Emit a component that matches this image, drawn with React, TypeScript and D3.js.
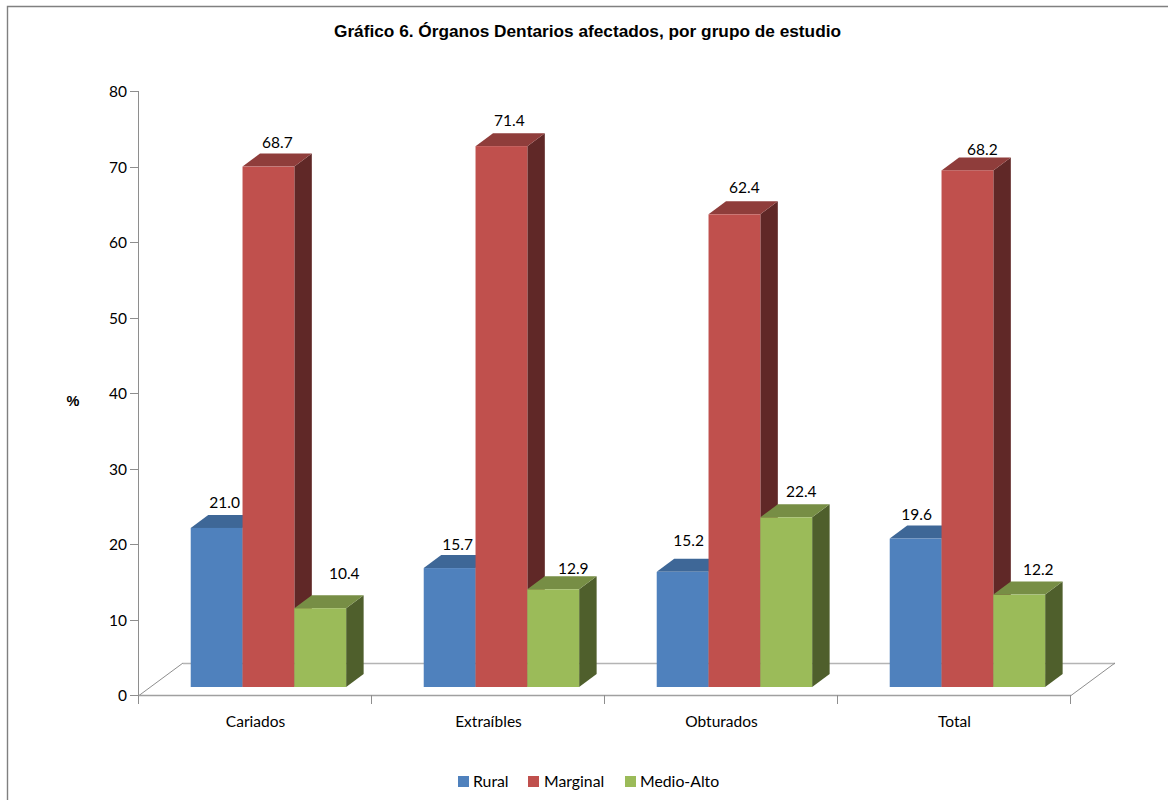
import React from "react";
import * as d3 from "d3";

const title = "Gráfico 6. Órganos Dentarios afectados, por grupo de estudio";
const categories = ["Cariados", "Extraíbles", "Obturados", "Total"];
const seriesNames = ["Rural", "Marginal", "Medio-Alto"];
const rural = [21.0, 15.7, 15.2, 19.6];
const marginal = [68.7, 71.4, 62.4, 68.2];
const medioAlto = [10.4, 12.9, 22.4, 12.2];
const yTicks = [0, 10, 20, 30, 40, 50, 60, 70, 80];

const frontColors = ["#4F81BD", "#C0504D", "#9BBB59"];
const topColors = ["#3E6797", "#8F3D3B", "#778E45"];
const sideColors = ["#2F4D71", "#602827", "#4F5F2C"];

// Hand placement of each value label relative to the centre of its bar's top edge.
const labelNudge = [
  [[8, -25], [8, -24], [6, -31], [1, -24]],
  [[9, -24], [8, -26], [10, -27], [15, -21]],
  [[24, -35], [20, -21], [15, -26], [19, -25]],
];

const W = 1168;
const H = 800;
const axisX = 139;
const axisRight = 1071;
const axisBottom = 695;
const axisTop = 91;
const floorFront = 687; // where bars meet the floor
const depthX = 17.5;
const depthY = -13;
const floorDX = 44;
const floorDY = -32;

const labelFont = "Lato, 'Open Sans', sans-serif";
const titleFont = "'Liberation Sans', Arial, sans-serif";

export default function App() {
  const values = [rural, marginal, medioAlto];
  const yAxis = d3.scaleLinear().domain([0, 80]).range([axisBottom, axisTop]);
  const yBar = d3.scaleLinear().domain([0, 80]).range([floorFront, floorFront - 606]);
  const x0 = d3.scaleBand<string>().domain(categories).range([axisX, axisRight]);
  const step = x0.step();
  const x1 = d3
    .scaleBand<string>()
    .domain(seriesNames)
    .range([step * 0.222, step * 0.889]);
  const w = x1.bandwidth();
  const poly = d3.line();

  const legendItems = [
    { name: seriesNames[0], swatch: 458, text: 473 },
    { name: seriesNames[1], swatch: 528, text: 544 },
    { name: seriesNames[2], swatch: 625, text: 640 },
  ];

  const tickXs = [...categories.map((c) => x0(c) as number), axisRight];

  return (
    <svg
      width={W}
      height={H}
      viewBox={`0 0 ${W} ${H}`}
      style={{ position: "absolute", left: 0, top: 0, display: "block" }}
    >
      <rect x={0} y={0} width={W} height={H} fill="#fff" />
      <path d={`M7.5 ${H} V6.5 H${W}`} fill="none" stroke="#808080" strokeWidth={1.4} />

      <text
        x={587.5}
        y={37}
        textAnchor="middle"
        fontFamily={titleFont}
        fontWeight="bold"
        fontSize={17.25}
        fill="#000"
      >
        {title}
      </text>

      {/* floor plane */}
      <path
        d={
          poly([
            [axisX, axisBottom],
            [axisX + floorDX, axisBottom + floorDY],
            [axisRight + floorDX, axisBottom + floorDY],
            [axisRight, axisBottom],
          ]) as string
        }
        fill="#fff"
        stroke="none"
      />
      <line x1={axisX + floorDX} x2={axisRight + floorDX} y1={663.5} y2={663.5} stroke="#B4B4B4" strokeWidth={1.5} />
      <line x1={axisX} x2={axisX + floorDX} y1={axisBottom + 0.5} y2={axisBottom + floorDY} stroke="#8E8E8E" strokeWidth={1} />
      <line x1={axisRight} x2={axisRight + floorDX} y1={axisBottom + 0.5} y2={axisBottom + floorDY} stroke="#8E8E8E" strokeWidth={1} />

      {/* value axis */}
      <line x1={axisX - 0.5} x2={axisX - 0.5} y1={axisTop} y2={axisBottom} stroke="#8E8E8E" />
      {yTicks.map((t) => (
        <g key={t}>
          <line
            x1={axisX - 9}
            x2={axisX}
            y1={Math.round(yAxis(t)) + 0.5}
            y2={Math.round(yAxis(t)) + 0.5}
            stroke="#8E8E8E"
          />
          <text
            x={axisX - 12}
            y={yAxis(t) + 6}
            textAnchor="end"
            fontFamily={labelFont}
            fontSize={15.5}
            fill="#000"
          >
            {t}
          </text>
        </g>
      ))}

      {/* category axis */}
      <line x1={axisX} x2={axisRight} y1={axisBottom + 0.5} y2={axisBottom + 0.5} stroke="#A0A0A0" strokeWidth={1.5} />
      {tickXs.map((tx) => (
        <line key={tx} x1={tx - 0.5} x2={tx - 0.5} y1={axisBottom} y2={axisBottom + 9} stroke="#8E8E8E" />
      ))}
      {categories.map((c) => (
        <text
          key={c}
          x={(x0(c) as number) + step / 2}
          y={727}
          textAnchor="middle"
          fontFamily={labelFont}
          fontSize={15.5}
          fill="#000"
        >
          {c}
        </text>
      ))}

      <text
        x={73}
        y={406}
        textAnchor="middle"
        fontFamily={titleFont}
        fontWeight="bold"
        fontSize={14.5}
        fill="#000"
      >
        %
      </text>

      {/* bars: left to right so each one overlaps the depth of its neighbour */}
      {categories.map((c, ci) => (
        <g key={c}>
          {seriesNames.map((s, si) => {
            const left = (x0(c) as number) + (x1(s) as number);
            const right = left + w;
            const top = yBar(values[si][ci]);
            const bottom = floorFront;
            return (
              <g key={s}>
                <path
                  d={
                    (poly([
                      [right, top],
                      [right + depthX, top + depthY],
                      [right + depthX, bottom + depthY],
                      [right, bottom],
                    ]) as string) + "Z"
                  }
                  fill={sideColors[si]}
                />
                <path
                  d={
                    (poly([
                      [left, top],
                      [left + depthX, top + depthY],
                      [right + depthX, top + depthY],
                      [right, top],
                    ]) as string) + "Z"
                  }
                  fill={topColors[si]}
                />
                <rect x={left} y={top} width={w} height={bottom - top} fill={frontColors[si]} />
              </g>
            );
          })}
        </g>
      ))}

      {/* value labels */}
      {categories.map((c, ci) =>
        seriesNames.map((s, si) => {
          const [dx, dy] = labelNudge[si][ci];
          return (
            <text
              key={c + s}
              x={(x0(c) as number) + (x1(s) as number) + w / 2 + dx}
              y={yBar(values[si][ci]) + dy + 5.5}
              textAnchor="middle"
              fontFamily={labelFont}
              fontSize={15.5}
              fill="#000"
            >
              {values[si][ci].toFixed(1)}
            </text>
          );
        })
      )}

      {/* legend */}
      {legendItems.map((item, i) => (
        <g key={item.name}>
          <rect x={item.swatch} y={776} width={11} height={11} fill={frontColors[i]} />
          <text x={item.text} y={786.5} fontFamily={labelFont} fontSize={15.8} fill="#000">
            {item.name}
          </text>
        </g>
      ))}
    </svg>
  );
}
